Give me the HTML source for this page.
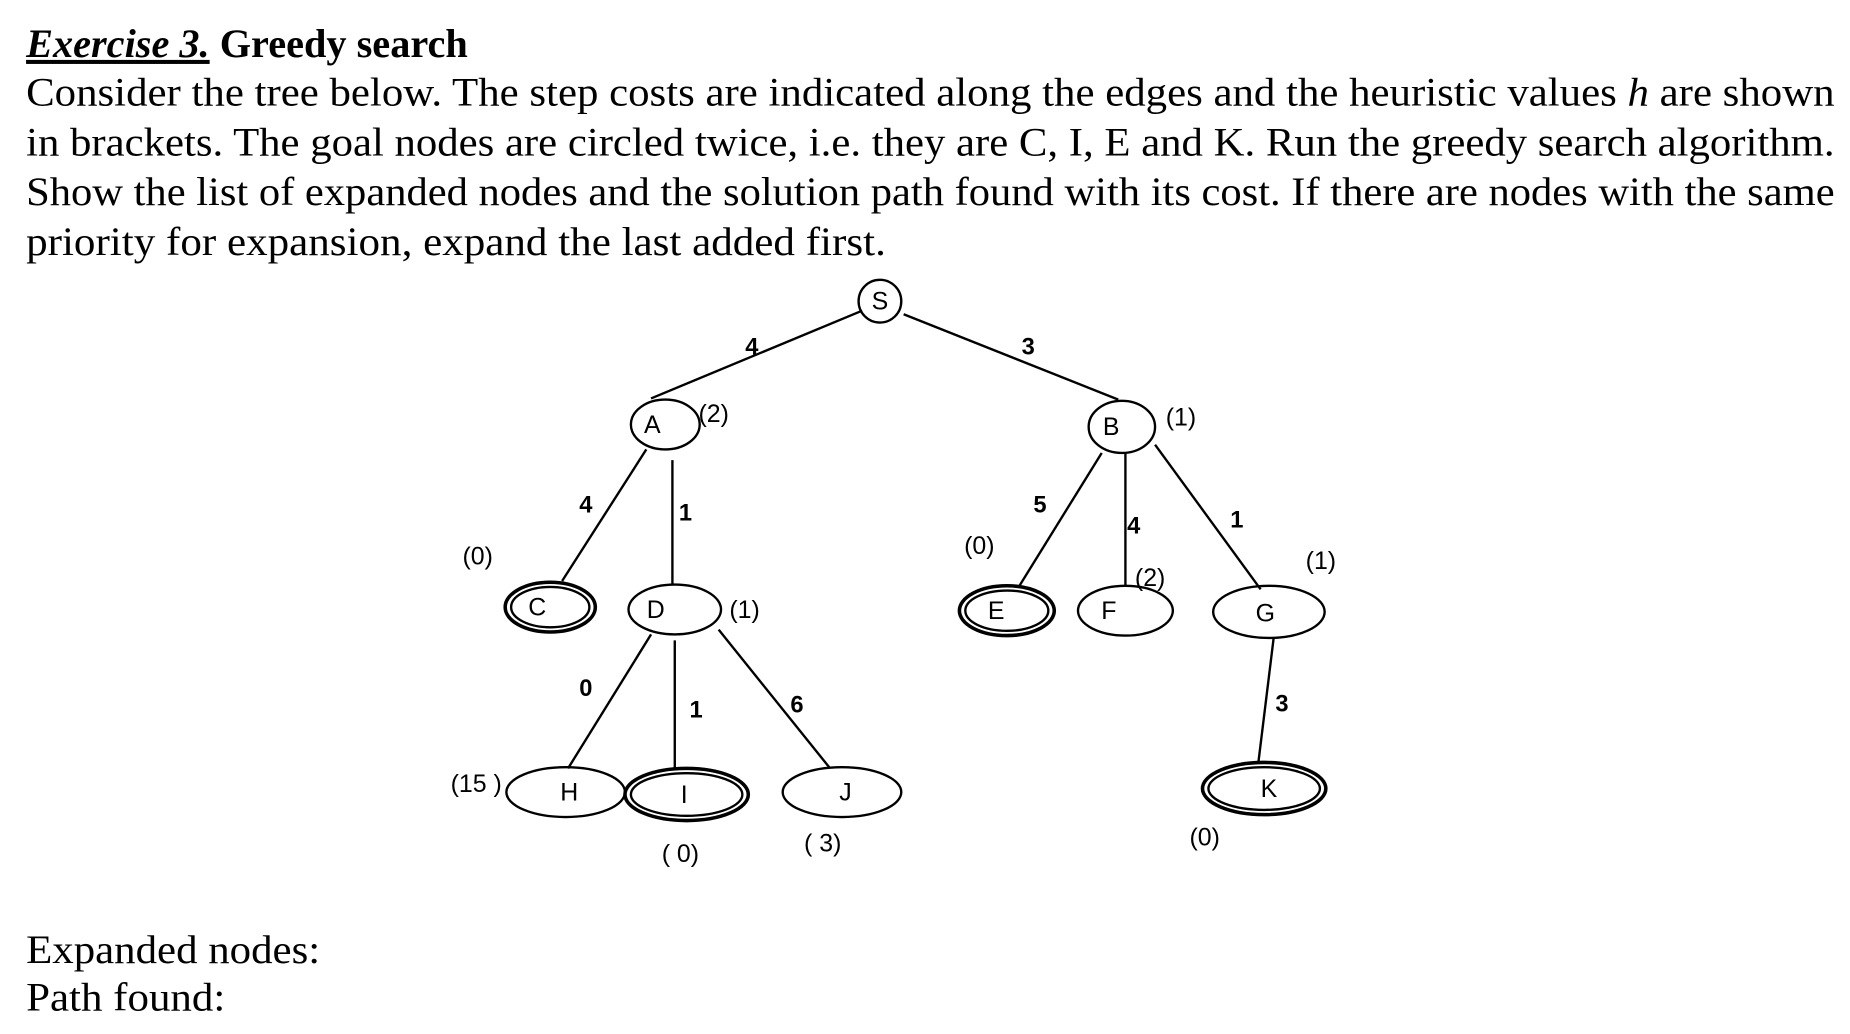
<!DOCTYPE html>
<html><head><meta charset="utf-8"><style>
html,body{margin:0;padding:0;background:#fff;}
svg{display:block;}
.t{font-family:"Liberation Serif",serif;font-size:34px;fill:#000;}
.n{font-family:"Liberation Sans",sans-serif;font-size:21px;fill:#000;text-anchor:middle;}
.h{font-family:"Liberation Sans",sans-serif;font-size:21px;fill:#000;}
.c{font-family:"Liberation Sans",sans-serif;font-size:20px;font-weight:bold;fill:#000;text-anchor:middle;}
</style></head><body>
<svg width="1850" height="1034" viewBox="0 0 1560 872" preserveAspectRatio="none" xmlns="http://www.w3.org/2000/svg">
<text class="t" x="22" y="48"><tspan font-style="italic" font-weight="bold" text-decoration="underline">Exercise 3.</tspan><tspan font-weight="bold"> Greedy search</tspan></text>
<text class="t" x="22" y="89" textLength="1525" lengthAdjust="spacingAndGlyphs">Consider the tree below. The step costs are indicated along the edges and the heuristic values <tspan font-style="italic">h</tspan> are shown</text>
<text class="t" x="22" y="131" textLength="1525" lengthAdjust="spacingAndGlyphs">in brackets. The goal nodes are circled twice, i.e. they are C, I, E and K. Run the greedy search algorithm.</text>
<text class="t" x="22" y="173" textLength="1525" lengthAdjust="spacingAndGlyphs">Show the list of expanded nodes and the solution path found with its cost. If there are nodes with the same</text>
<text class="t" x="22" y="215" textLength="725" lengthAdjust="spacingAndGlyphs">priority for expansion, expand the last added first.</text>
<text class="t" x="22" y="812" textLength="248" lengthAdjust="spacingAndGlyphs">Expanded nodes:</text>
<text class="t" x="22" y="852" textLength="168" lengthAdjust="spacingAndGlyphs">Path found:</text>

<g stroke="#000" stroke-width="2" fill="none">
<line x1="727" y1="262" x2="549" y2="336"/>
<line x1="762" y1="265" x2="943" y2="337"/>
<line x1="545" y1="379" x2="474" y2="490"/>
<line x1="567" y1="388" x2="567" y2="493"/>
<line x1="549" y1="535" x2="479" y2="648"/>
<line x1="569" y1="540" x2="569" y2="648"/>
<line x1="606" y1="531" x2="700" y2="648"/>
<line x1="929" y1="382" x2="859" y2="495"/>
<line x1="949" y1="382" x2="949" y2="494"/>
<line x1="974" y1="375" x2="1063" y2="497"/>
<line x1="1074" y1="538" x2="1061" y2="644"/>
<circle cx="742" cy="254" r="18"/>
<ellipse cx="561" cy="358" rx="29" ry="21"/>
<ellipse cx="946" cy="360" rx="28" ry="22"/>
<ellipse cx="464" cy="512" rx="38" ry="21" stroke-width="3"/><ellipse cx="464" cy="512" rx="33" ry="17"/>
<ellipse cx="569" cy="514" rx="39" ry="21"/>
<ellipse cx="477" cy="668" rx="50" ry="21"/>
<ellipse cx="579" cy="670" rx="52" ry="22" stroke-width="3"/><ellipse cx="579" cy="670" rx="47" ry="18"/>
<ellipse cx="710" cy="668" rx="50" ry="21"/>
<ellipse cx="849" cy="515" rx="40" ry="21" stroke-width="3"/><ellipse cx="849" cy="515" rx="35" ry="17"/>
<ellipse cx="949" cy="515" rx="40" ry="21"/>
<ellipse cx="1070" cy="516" rx="47" ry="22"/>
<ellipse cx="1066" cy="665" rx="52" ry="22" stroke-width="3"/><ellipse cx="1066" cy="665" rx="47" ry="18"/>
</g>

<text class="n" x="742" y="261">S</text>
<text class="n" x="550" y="365">A</text>
<text class="n" x="937" y="367">B</text>
<text class="n" x="453" y="519">C</text>
<text class="n" x="553" y="521">D</text>
<text class="n" x="480" y="675">H</text>
<text class="n" x="577" y="677">I</text>
<text class="n" x="713" y="675">J</text>
<text class="n" x="840" y="522">E</text>
<text class="n" x="935" y="522">F</text>
<text class="n" x="1067" y="524">G</text>
<text class="n" x="1070" y="672">K</text>

<text class="h" x="589" y="356">(2)</text>
<text class="h" x="983" y="359">(1)</text>
<text class="h" x="390" y="476">(0)</text>
<text class="h" x="615" y="521">(1)</text>
<text class="h" x="380" y="668">(15 )</text>
<text class="h" x="558" y="727">( 0)</text>
<text class="h" x="678" y="718">( 3)</text>
<text class="h" x="813" y="467">(0)</text>
<text class="h" x="957" y="494">(2)</text>
<text class="h" x="1101" y="480">(1)</text>
<text class="h" x="1003" y="713">(0)</text>

<text class="c" x="634" y="299">4</text>
<text class="c" x="867" y="299">3</text>
<text class="c" x="494" y="432">4</text>
<text class="c" x="578" y="439">1</text>
<text class="c" x="494" y="587">0</text>
<text class="c" x="587" y="605">1</text>
<text class="c" x="672" y="601">6</text>
<text class="c" x="877" y="432">5</text>
<text class="c" x="956" y="450">4</text>
<text class="c" x="1043" y="445">1</text>
<text class="c" x="1081" y="600">3</text>
</svg>
</body></html>
